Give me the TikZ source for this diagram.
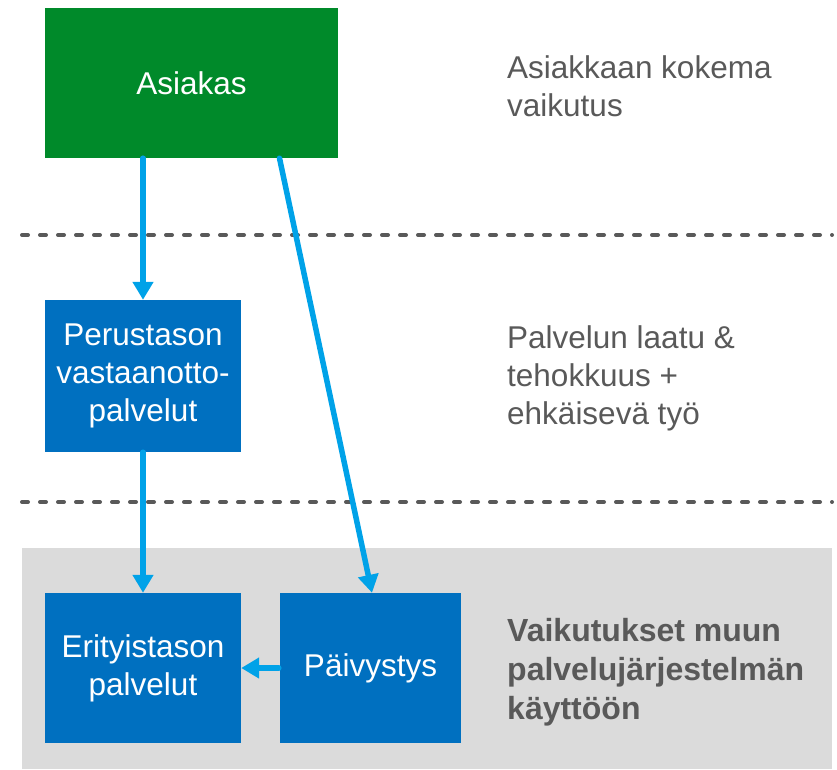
\documentclass[tikz,border=0pt]{standalone}
\usepackage{fontspec}
\setmainfont{Liberation Sans}
\usetikzlibrary{arrows.meta,positioning}

\definecolor{boxblue}{HTML}{0070C0}
\definecolor{boxgreen}{HTML}{008A2A}
\definecolor{arrowblue}{HTML}{00A2E8}
\definecolor{bandgray}{HTML}{DBDBDB}
\definecolor{textgray}{HTML}{595959}

\tikzset{
  box/.style={fill=boxblue, text=white, align=center, inner sep=0pt,
    font=\fontsize{31.5}{38}\selectfont},
  flow/.style={draw=arrowblue, line width=5.5pt, line cap=round,
    -{Triangle[width=20pt,length=18pt]}},
  level/.style={draw=textgray, line width=4pt, line cap=round,
    dash pattern=on 6pt off 12pt},
  note/.style={anchor=west, align=left, text=textgray, inner sep=0pt,
    font=\fontsize{31.5}{38}\selectfont}
}

\begin{document}
\begin{tikzpicture}[x=1pt,y=-1pt]
  \useasboundingbox (0,0) rectangle (837,769);
  \fill[bandgray] (22,548) rectangle (832,769);

  \node (asiakas) [box, fill=boxgreen, minimum width=293pt, minimum height=150pt]
    at (191.5,83) {Asiakas};
  \node (perus) [box, minimum width=196pt, minimum height=152pt]
    at (143,376) {Perustason\\vastaanotto-\\palvelut};
  \node (erit) [box, minimum width=196pt, minimum height=150pt]
    at (143,668) {Erityistason\\palvelut};
  \node (paiv) [box, minimum width=181pt, minimum height=150pt]
    at (370.5,668) {Päivystys};

  \node (vaik) [note] at (507,86) {Asiakkaan kokema\\vaikutus};
  \node (laatu) [note] at (507,378) {Palvelun laatu \&\\tehokkuus +\\ehkäisevä työ};
  \node (muu) [note, font=\fontsize{32}{39}\selectfont\bfseries] at (507,672)
    {Vaikutukset muun\\palvelujärjestelmän\\käyttöön};

  \draw[level] (22,235) -- (832,235);
  \draw[level] (22,502) -- (832,502);

  \draw[flow] (asiakas.south -| perus.north) -- (perus.north);
  \draw[flow] (perus.south) -- (erit.north);
  \draw[flow] ([xshift=88pt]asiakas.south) -- ([xshift=1.5pt]paiv.north);
  \draw[flow] ([xshift=-1pt]paiv.west) -- (erit.east);
\end{tikzpicture}
\end{document}
